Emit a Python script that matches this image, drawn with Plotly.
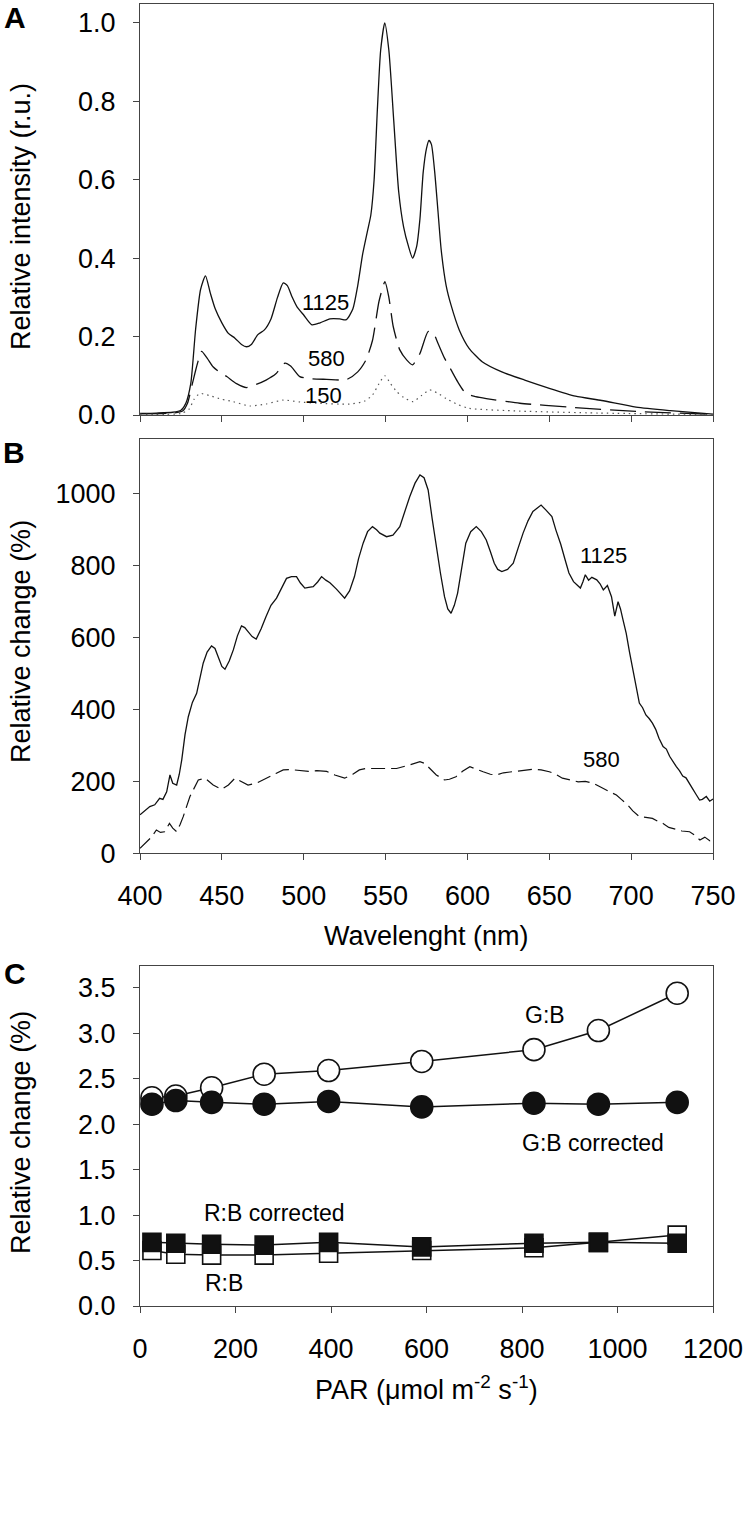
import plotly.graph_objects as go

# ---------------- Panel A: spectra (relative intensity) ----------------
wl_a1125 = [400, 410, 420, 425, 428, 431, 434, 437, 440, 443, 446, 450, 454, 458, 462, 465, 468, 472,
            476, 480, 484, 487.5, 490, 493, 496, 500, 505, 510, 516, 522, 526, 530, 533, 536, 539, 541,
            543, 545, 547, 549.5, 552, 555, 558, 561, 564, 566.5, 569, 571, 573, 575, 576.5, 578, 580,
            582, 584, 587, 590, 595, 601, 609, 621, 635, 650, 666, 682, 703, 724, 750]
int_a1125 = [0.004, 0.005, 0.007, 0.012, 0.03, 0.08, 0.22, 0.32, 0.355, 0.31, 0.27, 0.235, 0.208, 0.196,
             0.18, 0.174, 0.18, 0.205, 0.217, 0.245, 0.30, 0.337, 0.33, 0.30, 0.275, 0.255, 0.23, 0.235,
             0.245, 0.245, 0.243, 0.27, 0.33, 0.41, 0.47, 0.51, 0.60, 0.78, 0.93, 1.0, 0.93, 0.75, 0.57,
             0.48, 0.43, 0.40, 0.43, 0.50, 0.62, 0.68, 0.70, 0.69, 0.62, 0.52, 0.42, 0.33, 0.28, 0.217,
             0.17, 0.136, 0.11, 0.089, 0.068, 0.048, 0.037, 0.02, 0.011, 0.002]

wl_a580 = [400, 420, 426, 429, 432, 435, 437.6, 441, 444.6, 449, 453, 459, 465, 471, 477, 483, 488.5,
           492, 497.6, 505, 514, 526, 533, 538, 542, 546, 549.6, 552, 554.7, 558.7, 563, 566.5, 571,
           576, 579, 582, 586, 590, 594, 599, 605, 611.5, 632, 662.5, 703, 750]
int_a580 = [0.003, 0.005, 0.01, 0.03, 0.08, 0.13, 0.162, 0.145, 0.123, 0.108, 0.098, 0.08, 0.07, 0.078,
            0.089, 0.105, 0.132, 0.125, 0.098, 0.092, 0.091, 0.09, 0.11, 0.14, 0.19, 0.29, 0.34, 0.30,
            0.225, 0.166, 0.14, 0.128, 0.157, 0.213, 0.21, 0.183, 0.145, 0.115, 0.085, 0.055, 0.047,
            0.042, 0.03, 0.02, 0.009, 0.002]

wl_a150 = [400, 425, 430, 433, 436.6, 442, 450, 457, 467, 477, 487.5, 498, 508, 528, 537, 542, 546,
           549.6, 553, 556.7, 561, 566.8, 572, 577, 582, 587, 594, 601, 632, 680, 750]
int_a150 = [0.002, 0.004, 0.015, 0.04, 0.055, 0.05, 0.04, 0.034, 0.023, 0.028, 0.038, 0.033, 0.03, 0.028,
            0.035, 0.051, 0.08, 0.10, 0.08, 0.06, 0.045, 0.034, 0.05, 0.064, 0.055, 0.042, 0.027, 0.017,
            0.01, 0.005, 0.001]

# ---------------- Panel B: relative change (%) ----------------
wl_b1125 = [400, 403, 406, 409, 412, 414, 416.3, 418.3, 420, 422.4, 424, 425.5, 427.5, 429.5, 432, 434.6,
            436.6, 438.6, 441, 443.7, 445.8, 447.8, 450, 451.9, 454.5, 457, 459.5, 462, 464, 466, 468.5,
            471, 474, 477, 480, 483.4, 486.5, 489.5, 492.5, 495.6, 498, 500.7, 503, 505.8, 508.5, 510.9,
            513.5, 516, 520, 525, 528, 531, 533.5, 536.3, 539, 542, 544.5, 546.5, 550.6, 554.5, 558.7,
            561.5, 564.8, 568, 571, 573.5, 576, 578.5, 581, 583.5, 586, 588, 590, 592, 594, 596.5, 599,
            602, 605.4, 608.5, 611.5, 614, 616.4, 618.5, 621, 624.5, 628, 631, 634, 637, 640, 642.5, 645,
            648, 651.6, 654, 657, 659.7, 662, 664.8, 667, 669, 670.5, 672, 674, 676, 679, 681, 683, 685.5,
            688, 690, 692, 693.5, 695, 697, 699, 701, 703, 705, 707, 709, 711, 713, 715, 717, 719.5,
            721.5, 723.5, 725.5, 727.6, 729.5, 731.5, 733.5, 735.7, 737.5, 739.5, 741.8, 743.5, 745.9,
            748, 750]
chg_b1125 = [107, 118, 130, 135, 153, 150, 171, 218, 195, 190, 220, 260, 330, 380, 420, 445, 490, 529,
             560, 577, 570, 547, 520, 512, 535, 566, 605, 633, 628, 617, 603, 596, 625, 659, 690, 710, 740,
             765, 770, 770, 752, 738, 740, 742, 755, 770, 760, 753, 735, 710, 730, 770, 820, 863, 895, 909,
             900, 891, 881, 885, 909, 950, 993, 1030, 1053, 1045, 1011, 930, 853, 780, 714, 680, 668, 690,
             724, 800, 863, 895, 909, 895, 872, 840, 807, 790, 784, 790, 807, 850, 891, 925, 951, 960, 969,
             955, 937, 900, 860, 816, 780, 756, 745, 738, 755, 775, 760, 768, 761, 750, 733, 745, 714,
             660, 700, 680, 650, 612, 560, 510, 470, 418, 405, 385, 375, 362, 345, 320, 297, 290, 270, 255,
             241, 230, 215, 210, 195, 180, 165, 148, 150, 158, 145, 151]

wl_b580 = [400, 404, 407, 410, 412.5, 415, 418, 420, 422.4, 424.5, 426.4, 430.5, 435.6, 439.7, 444.7,
           449.9, 454, 458, 462, 466, 471, 475, 479, 483, 487.5, 492, 497.7, 503, 508, 514, 519, 525,
           530, 534, 538, 542, 548, 556.7, 564, 571, 574, 577, 581, 586, 589, 593, 597, 601.5, 605,
           609.6, 614, 617.8, 622, 628, 634, 640, 645, 650, 654, 658, 662, 667.6, 672, 676.7, 681,
           684.8, 688, 691, 694, 698, 701, 705, 709, 713, 716, 719.5, 723, 727.6, 731, 735.7, 739, 742,
           745, 748, 750]
chg_b580 = [14, 32, 45, 65, 58, 60, 83, 70, 60, 80, 102, 158, 204, 209, 190, 178, 190, 209, 200, 190,
            195, 205, 213, 222, 232, 233, 230, 228, 230, 228, 218, 209, 220, 232, 236, 236, 234, 236, 245,
            255, 250, 236, 218, 204, 206, 213, 228, 241, 234, 227, 220, 218, 224, 227, 230, 234, 232, 227,
            220, 209, 205, 199, 200, 195, 185, 176, 170, 162, 150, 134, 118, 102, 100, 97, 90, 83, 72, 65,
            62, 60, 50, 37, 45, 35, 44]

# ---------------- Panel C: ratios vs PAR ----------------
par = [25, 75, 150, 260, 395, 590, 825, 960, 1125]
gb = [2.29, 2.31, 2.40, 2.55, 2.59, 2.69, 2.82, 3.03, 3.44]
gb_corr = [2.22, 2.26, 2.24, 2.22, 2.25, 2.19, 2.23, 2.22, 2.24]
rb = [0.61, 0.57, 0.56, 0.56, 0.58, 0.61, 0.64, 0.70, 0.78]
rb_corr = [0.70, 0.69, 0.68, 0.67, 0.70, 0.65, 0.69, 0.70, 0.69]

wl_ticks = [400, 450, 500, 550, 600, 650, 700, 750]

W, H = 747, 1514
FONT = "Arial, 'Liberation Sans', Helvetica, sans-serif"
LC = "#111111"
AX = "#444444"


def px_x(p):
    return p / W


def px_y(p):
    return 1 - p / H


fig = go.Figure()

# Panel A
fig.add_trace(go.Scatter(x=wl_a1125, y=int_a1125, mode="lines", line=dict(color=LC, width=1.3, shape="spline", smoothing=0.6),
                         xaxis="x", yaxis="y", showlegend=False))
fig.add_trace(go.Scatter(x=wl_a580, y=int_a580, mode="lines", line=dict(color=LC, width=1.3, dash="26px,9px", shape="spline", smoothing=0.6),
                         xaxis="x", yaxis="y", showlegend=False))
fig.add_trace(go.Scatter(x=wl_a150, y=int_a150, mode="lines", line=dict(color="#555555", width=1.2, dash="1.5px,4px", shape="spline", smoothing=0.6),
                         xaxis="x", yaxis="y", showlegend=False))

# Panel B
fig.add_trace(go.Scatter(x=wl_b1125, y=chg_b1125, mode="lines", line=dict(color=LC, width=1.3),
                         xaxis="x2", yaxis="y2", showlegend=False))
fig.add_trace(go.Scatter(x=wl_b580, y=chg_b580, mode="lines", line=dict(color=LC, width=1.2, dash="14px,6px"),
                         xaxis="x2", yaxis="y2", showlegend=False))

# Panel C (open first, then filled on top)
mk_line = dict(color=LC, width=1.6)
fig.add_trace(go.Scatter(x=par, y=gb, mode="lines+markers", line=dict(color=LC, width=1.5),
                         marker=dict(symbol="circle", size=22, color="white", line=mk_line),
                         xaxis="x3", yaxis="y3", showlegend=False))
fig.add_trace(go.Scatter(x=par, y=gb_corr, mode="lines+markers", line=dict(color=LC, width=1.5),
                         marker=dict(symbol="circle", size=22, color=LC, line=mk_line),
                         xaxis="x3", yaxis="y3", showlegend=False))
fig.add_trace(go.Scatter(x=par, y=rb, mode="lines+markers", line=dict(color=LC, width=1.5),
                         marker=dict(symbol="square", size=18, color="white", line=mk_line),
                         xaxis="x3", yaxis="y3", showlegend=False))
fig.add_trace(go.Scatter(x=par, y=rb_corr, mode="lines+markers", line=dict(color=LC, width=1.5),
                         marker=dict(symbol="square", size=18, color=LC, line=mk_line),
                         xaxis="x3", yaxis="y3", showlegend=False))

common = dict(showgrid=False, zeroline=False, showline=True, linecolor=AX, linewidth=1.2, mirror=True,
              ticks="outside", ticklen=6, tickwidth=1.2, tickcolor=AX, automargin=False,
              tickfont=dict(family=FONT, size=27, color="#000"))

x_dom = [px_x(140), px_x(713)]

fig.update_layout(
    template="none",
    width=W, height=H,
    margin=dict(l=0, r=0, t=0, b=0, autoexpand=False),
    paper_bgcolor="white", plot_bgcolor="white",
    font=dict(family=FONT, color="#000"),
    xaxis=dict(domain=x_dom, range=[400, 750], tickvals=wl_ticks, showticklabels=False, anchor="y", **common),
    yaxis=dict(domain=[px_y(415), px_y(4)], range=[0, 1.048], tickvals=[0, 0.2, 0.4, 0.6, 0.8, 1.0],
               tickformat=".1f", anchor="x", ticklabelstandoff=12, **common),
    xaxis2=dict(domain=x_dom, range=[400, 750], tickvals=wl_ticks, anchor="y2", ticklabelstandoff=12, **common),
    yaxis2=dict(domain=[px_y(853.3), px_y(439.3)], range=[0, 1152], tickvals=[0, 200, 400, 600, 800, 1000],
                anchor="x2", ticklabelstandoff=12, **common),
    xaxis3=dict(domain=x_dom, range=[0, 1200], tickvals=[0, 200, 400, 600, 800, 1000, 1200], anchor="y3",
                ticklabelstandoff=12, **common),
    yaxis3=dict(domain=[px_y(1306), px_y(966)], range=[0, 3.74], tickvals=[0, 0.5, 1.0, 1.5, 2.0, 2.5, 3.0, 3.5],
                tickformat=".1f", anchor="x3", ticklabelstandoff=12, **common),
)

ann = []


def paper_text(text, x, y, size, angle=0, bold=False):
    t = f"<b>{text}</b>" if bold else text
    ann.append(dict(text=t, x=px_x(x), y=px_y(y), xref="paper", yref="paper", showarrow=False,
                    xanchor="center", yanchor="middle", textangle=angle,
                    font=dict(family=FONT, size=size, color="#000")))


def data_text(text, x, y, xr, yr, size):
    ann.append(dict(text=text, x=x, y=y, xref=xr, yref=yr, showarrow=False,
                    xanchor="center", yanchor="middle", font=dict(family=FONT, size=size, color="#000")))


# panel letters
paper_text("A", 15, 17, 30, bold=True)
paper_text("B", 14, 453, 30, bold=True)
paper_text("C", 15, 974, 30, bold=True)

# axis titles
paper_text("Relative intensity (r.u.)", 21, 217, 27, angle=-90)
paper_text("Relative change (%)", 21, 642, 27, angle=-90)
paper_text("Relative change (%)", 21, 1133, 27, angle=-90)
paper_text("Wavelenght (nm)", 426.5, 936, 27)
paper_text("PAR (\u03bcmol m<sup>-2</sup> s<sup>-1</sup>)", 426.5, 1388, 27)

# series labels
data_text("1125", 513, 0.286, "x", "y", 22)
data_text("580", 514, 0.145, "x", "y", 22)
data_text("150", 512, 0.051, "x", "y", 22)
data_text("1125", 683, 830, "x2", "y2", 22)
data_text("580", 682, 260, "x2", "y2", 22)
data_text("G:B", 848, 3.2, "x3", "y3", 23)
data_text("G:B corrected", 949, 1.79, "x3", "y3", 23)
data_text("R:B corrected", 281, 1.02, "x3", "y3", 23)
data_text("R:B", 176, 0.25, "x3", "y3", 23)

fig.update_layout(annotations=ann)

fig.write_html("out.html", config={"displayModeBar": False},
               post_script="document.body.style.margin='0px';document.body.style.padding='0px';")
